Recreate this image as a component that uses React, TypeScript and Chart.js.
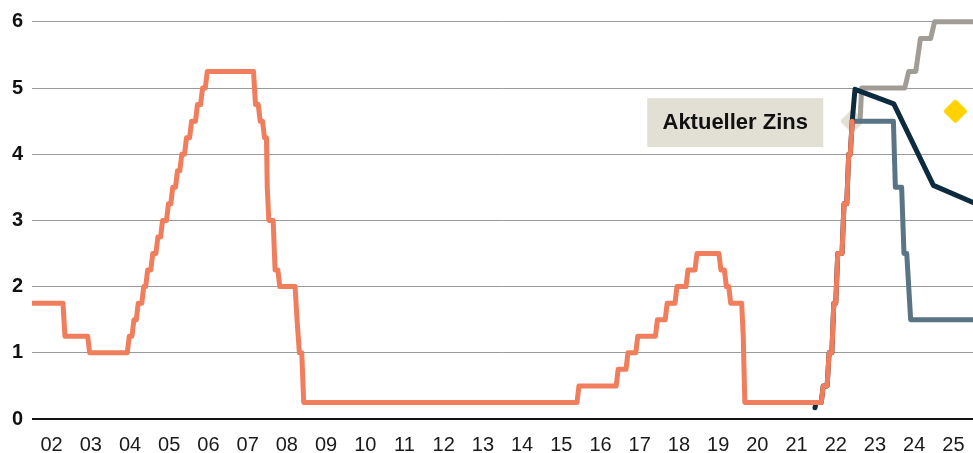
import React, { useEffect, useRef } from "react";
import { Chart, registerables } from "chart.js";

Chart.register(...registerables);

// Leitzins (orange), historical
const fedYears = [
  2002.0, 2002.79, 2002.84, 2003.42, 2003.47, 2004.43, 2004.48, 2004.55, 2004.6, 2004.66, 2004.71,
  2004.8, 2004.85, 2004.9, 2004.95, 2005.03, 2005.08, 2005.16, 2005.21, 2005.28, 2005.33, 2005.43,
  2005.48, 2005.54, 2005.59, 2005.66, 2005.71, 2005.77, 2005.82, 2005.89, 2005.94, 2006.02, 2006.07,
  2006.17, 2006.22, 2006.3, 2006.35, 2006.42, 2006.47, 2007.65, 2007.7, 2007.77, 2007.82, 2007.88,
  2007.93, 2007.98, 2008.0, 2008.04, 2008.15, 2008.2, 2008.27, 2008.32, 2008.71, 2008.76, 2008.78,
  2008.82, 2008.88, 2008.93, 2015.9, 2015.95, 2016.9, 2016.95, 2017.15, 2017.2, 2017.4, 2017.45,
  2017.9, 2017.95, 2018.15, 2018.2, 2018.4, 2018.45, 2018.68, 2018.73, 2018.91, 2018.96, 2019.52,
  2019.57, 2019.66, 2019.71, 2019.77, 2019.82, 2020.1, 2020.14, 2020.18, 2022.13, 2022.18, 2022.28,
  2022.33, 2022.4, 2022.45, 2022.5, 2022.55, 2022.66, 2022.71, 2022.78, 2022.83, 2022.87, 2022.92,
];
const fedRates = [
  1.75, 1.75, 1.25, 1.25, 1.0, 1.0, 1.25, 1.25, 1.5, 1.5, 1.75,
  1.75, 2.0, 2.0, 2.25, 2.25, 2.5, 2.5, 2.75, 2.75, 3.0, 3.0,
  3.25, 3.25, 3.5, 3.5, 3.75, 3.75, 4.0, 4.0, 4.25, 4.25, 4.5,
  4.5, 4.75, 4.75, 5.0, 5.0, 5.25, 5.25, 4.75, 4.75, 4.5, 4.5,
  4.25, 4.25, 3.5, 3.0, 3.0, 2.25, 2.25, 2.0, 2.0, 1.5, 1.5,
  1.0, 1.0, 0.25, 0.25, 0.5, 0.5, 0.75, 0.75, 1.0, 1.0, 1.25,
  1.25, 1.5, 1.5, 1.75, 1.75, 2.0, 2.0, 2.25, 2.25, 2.5, 2.5,
  2.25, 2.25, 2.0, 2.0, 1.75, 1.75, 1.25, 0.25, 0.25, 0.5, 0.5,
  1.0, 1.0, 1.75, 1.75, 2.5, 2.5, 3.25, 3.25, 4.0, 4.0, 4.5,
];

// dark navy path
const navyYears = [
  2021.97, 2022.0, 2022.13, 2022.18, 2022.28, 2022.33, 2022.4, 2022.45, 2022.5, 2022.55, 2022.66,
  2022.71, 2022.78, 2022.83, 2022.87, 2022.92, 2022.99, 2023.98, 2024.99, 2026.0,
];
const navyRates = [
  0.17, 0.25, 0.25, 0.5, 0.5, 1.0, 1.0, 1.75, 1.75, 2.5, 2.5,
  3.25, 3.25, 4.0, 4.0, 4.5, 4.98, 4.76, 3.53, 3.27,
];

// slate path (falling)
const lowYears = [2022.92, 2023.97, 2024.02, 2024.18, 2024.24, 2024.31, 2024.41, 2026.0];
const lowRates = [4.5, 4.5, 3.5, 3.5, 2.5, 2.5, 1.5, 1.5];

// grey path (rising)
const highYears = [2023.12, 2023.16, 2024.26, 2024.36, 2024.54, 2024.66, 2024.92, 2025.02, 2026.0];
const highRates = [4.5, 5.0, 5.0, 5.25, 5.25, 5.75, 5.75, 6.0, 6.0];

// yellow marker
const markerYears = [2025.55];
const markerRates = [4.65];

// current rate marker + label
const currentYears = [2022.92];
const currentRates = [4.5];
const currentLabel = "Aktueller Zins";

const tickYears = [
  2002, 2003, 2004, 2005, 2006, 2007, 2008, 2009, 2010, 2011, 2012, 2013,
  2014, 2015, 2016, 2017, 2018, 2019, 2020, 2021, 2022, 2023, 2024, 2025,
];
const tickLabels = [
  "02", "03", "04", "05", "06", "07", "08", "09", "10", "11", "12", "13",
  "14", "15", "16", "17", "18", "19", "20", "21", "22", "23", "24", "25",
];
const yTickValues = [0, 1, 2, 3, 4, 5, 6];

const FONT = '"Liberation Sans", Arial, sans-serif';

function zip(xs: number[], ys: number[]) {
  return xs.map((x, i) => ({ x, y: ys[i] }));
}

function diamond(color: string) {
  const size = 27;
  const c = document.createElement("canvas");
  c.width = size;
  c.height = size;
  const g = c.getContext("2d")!;
  const m = size / 2;
  const rr = 9.5;
  g.fillStyle = color;
  g.strokeStyle = color;
  g.lineWidth = 4;
  g.lineJoin = "round";
  g.beginPath();
  g.moveTo(m, m - rr);
  g.lineTo(m + rr, m);
  g.lineTo(m, m + rr);
  g.lineTo(m - rr, m);
  g.closePath();
  g.fill();
  g.stroke();
  return c;
}

const labelPlugin = {
  id: "currentLabel",
  beforeDatasetsDraw(chart: any) {
    const { ctx, scales } = chart;
    const px = scales.x.getPixelForValue(currentYears[0]);
    const py = scales.y.getPixelForValue(currentRates[0]);
    const w = 176;
    const h = 49;
    const right = px - 29;
    ctx.save();
    ctx.fillStyle = "#e2e0d5";
    ctx.fillRect(right - w, py + 1.5 - h / 2, w, h);
    ctx.fillStyle = "#111111";
    ctx.font = `bold 22px ${FONT}`;
    ctx.textAlign = "center";
    ctx.textBaseline = "middle";
    ctx.fillText(currentLabel, right - w / 2, py + 2);
    ctx.restore();
  },
};

export default function App() {
  const ref = useRef<HTMLCanvasElement | null>(null);

  useEffect(() => {
    if (!ref.current) return;
    const lineBase = {
      pointRadius: 0,
      pointHoverRadius: 0,
      borderWidth: 5,
      borderJoinStyle: "round" as const,
      borderCapStyle: "round" as const,
      tension: 0,
      fill: false,
    };
    const chart = new Chart(ref.current, {
      type: "line",
      data: {
        datasets: [
          {
            label: "marker",
            data: zip(markerYears, markerRates),
            showLine: false,
            pointStyle: diamond("#ffd200") as any,
            pointRadius: 12,
            borderColor: "#ffd200",
            backgroundColor: "#ffd200",
          },
          {
            ...lineBase,
            label: "Leitzins",
            data: zip(fedYears, fedRates),
            borderColor: "#f07d5b",
          },
          {
            ...lineBase,
            label: "navy",
            data: zip(navyYears, navyRates),
            borderColor: "#0d2b3e",
          },
          {
            ...lineBase,
            label: "low",
            data: zip(lowYears, lowRates),
            borderColor: "#587485",
          },
          {
            ...lineBase,
            label: "high",
            data: zip(highYears, highRates),
            borderColor: "#a19c95",
          },
          {
            label: "current",
            data: zip(currentYears, currentRates),
            showLine: false,
            pointStyle: diamond("#e2e0d5") as any,
            pointRadius: 12,
            borderColor: "#e2e0d5",
            backgroundColor: "#e2e0d5",
          },
        ],
      },
      options: {
        animation: false,
        responsive: true,
        maintainAspectRatio: false,
        layout: { padding: 0, autoPadding: false },
        plugins: {
          legend: { display: false },
          tooltip: { enabled: false },
        },
        events: [],
        scales: {
          x: {
            type: "linear",
            min: 2002,
            max: 2026,
            afterBuildTicks: (scale: any) => {
              scale.ticks = tickYears.map((v) => ({ value: v + 0.5 }));
            },
            afterFit: (scale: any) => {
              scale.height = 34;
              scale.paddingLeft = 0;
              scale.paddingRight = 0;
            },
            ticks: {
              autoSkip: false,
              maxRotation: 0,
              padding: 14,
              color: "#1a1a1a",
              font: { family: FONT, size: 20 },
              callback: (_v: any, i: number) => tickLabels[i],
            },
            grid: { display: false, drawTicks: false },
            border: { display: false },
          },
          y: {
            type: "linear",
            min: 0,
            max: 6.33,
            afterBuildTicks: (scale: any) => {
              scale.ticks = yTickValues.map((v) => ({ value: v }));
            },
            afterFit: (scale: any) => {
              scale.width = 32;
              scale.paddingTop = 0;
              scale.paddingBottom = 0;
            },
            ticks: {
              padding: 9,
              color: "#111111",
              font: { family: FONT, size: 20, weight: "bold" },
              callback: (v: any) => String(v),
            },
            grid: {
              drawTicks: false,
              color: (c: any) => (c.tick && c.tick.value === 0 ? "#111111" : "#9a9a9a"),
              lineWidth: (c: any) => (c.tick && c.tick.value === 0 ? 2 : 1),
            },
            border: { display: false },
          },
        },
      },
      plugins: [labelPlugin],
    });
    return () => chart.destroy();
  }, []);

  return (
    <div
      style={{
        position: "absolute",
        left: 0,
        top: 0,
        width: 973,
        height: 453,
        overflow: "hidden",
        background: "#ffffff",
      }}
    >
      <canvas ref={ref} style={{ display: "block" }} />
    </div>
  );
}
